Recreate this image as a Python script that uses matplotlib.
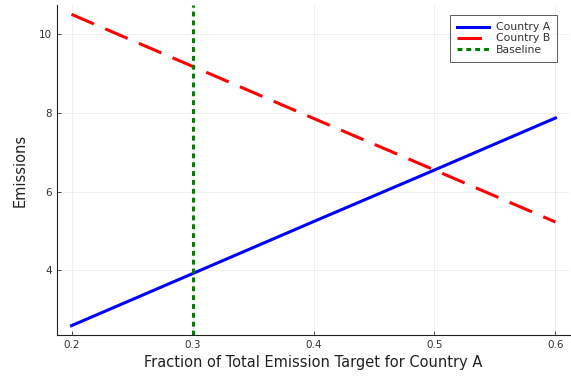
import numpy as np
import matplotlib.pyplot as plt

frac = [0.2, 0.3, 0.4, 0.5, 0.6]
country_a = [2.60, 3.92, 5.24, 6.55, 7.87]
country_b = [10.50, 9.18, 7.86, 6.55, 5.23]
baseline_x = 0.3

fig = plt.figure(figsize=(5.71, 3.77), dpi=100)
ax = fig.add_axes([57/571, 42/377, 513/571, 330/377])

ax.plot(frac, country_a, color="blue", lw=2.2, label="Country A")
ax.plot(frac, country_b, color="red", lw=2.2, ls=(0, (8, 4)), label="Country B")
ax.axvline(baseline_x, color="green", lw=2.2, ls=(0, (1.6, 1.3)), label="Baseline")

ax.set_xlim(0.188, 0.612)
ax.set_ylim(2.363, 10.737)
ax.set_xticks([0.2, 0.3, 0.4, 0.5, 0.6])
ax.set_yticks([4, 6, 8, 10])
ax.grid(True, color="black", alpha=0.07, lw=0.6)
for s in ["top", "right"]:
    ax.spines[s].set_visible(False)
for s in ["left", "bottom"]:
    ax.spines[s].set_color("#222222")
    ax.spines[s].set_linewidth(0.8)
ax.tick_params(direction="in", length=3, width=0.6, labelsize=7.5, labelcolor="#333333", color="#333333")
ax.set_xlabel("Fraction of Total Emission Target for Country A", fontsize=10.5, color="#222222", labelpad=4)
ax.set_ylabel("Emissions", fontsize=10.5, color="#222222", labelpad=8)

leg = ax.legend(loc="upper right", bbox_to_anchor=(0.985, 0.985), fontsize=7.8, frameon=True,
                fancybox=False, handlelength=3.0, borderpad=0.65, labelspacing=0.1, handletextpad=0.6)
leg.get_frame().set_edgecolor("#333333")
leg.get_frame().set_linewidth(0.7)
for t in leg.get_texts():
    t.set_color("#333333")

fig.savefig("out.png", dpi=100)
